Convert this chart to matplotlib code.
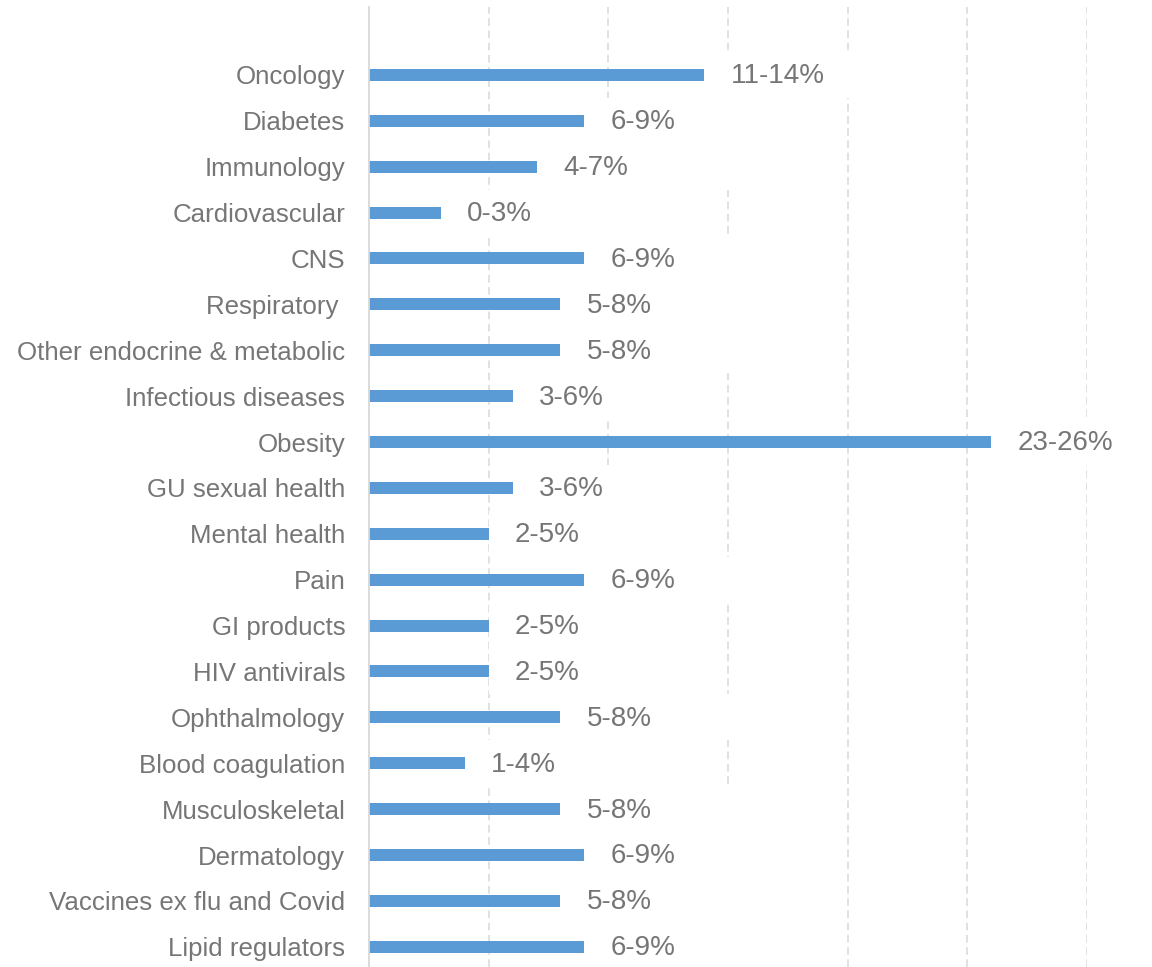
import matplotlib.pyplot as plt
import numpy as np

plt.rcParams['font.family'] = ['Liberation Sans', 'DejaVu Sans']

# 数据：各治疗领域及其区间（条形长度取区间上限）
categories = [
    'Oncology', 'Diabetes', 'Immunology', 'Cardiovascular', 'CNS',
    'Respiratory ', 'Other endocrine & metabolic', 'Infectious diseases',
    'Obesity', 'GU sexual health', 'Mental health', 'Pain', 'GI products',
    'HIV antivirals', 'Ophthalmology', 'Blood coagulation', 'Musculoskeletal',
    'Dermatology', 'Vaccines ex flu and Covid', 'Lipid regulators',
]
low_values = [11, 6, 4, 0, 6, 5, 5, 3, 23, 3, 2, 6, 2, 2, 5, 1, 5, 6, 5, 6]
high_values = [14, 9, 7, 3, 9, 8, 8, 6, 26, 6, 5, 9, 5, 5, 8, 4, 8, 9, 8, 9]
x_ticks = [0, 5, 10, 15, 20, 25, 30]

BAR_COLOR = '#5B9BD5'
TEXT_COLOR = '#767676'
GRID_COLOR = '#d9d9d9'

fig = plt.figure(figsize=(11.52, 9.67), dpi=100)
ax = fig.add_axes([0.3203, 0.0, 0.6233, 0.9928])

y = np.arange(len(categories))
labels = [f"{lo}-{hi}%" for lo, hi in zip(low_values, high_values)]

# 标签背景（白底，遮挡网格线）
ax.barh(y, 8.5, left=high_values, height=1.0, color='white', zorder=1)
ax.barh(y, high_values, height=0.26, color=BAR_COLOR, zorder=2)

for yi, val, lab in zip(y, high_values, labels):
    ax.annotate(lab, xy=(val, yi), xytext=(19, -1), textcoords='offset points',
                ha='left', va='center', fontsize=20, color=TEXT_COLOR,
                annotation_clip=False, zorder=3)

ax.set_xlim(0, 30)
ax.set_ylim(19.44, -1.48)
ax.set_xticks(x_ticks)
ax.set_xticklabels([])
ax.set_yticks(y)
ax.set_yticklabels(categories, fontsize=18.6, color=TEXT_COLOR)
ax.tick_params(axis='both', length=0)
ax.tick_params(axis='y', pad=17)

ax.set_axisbelow(True)
ax.grid(axis='x', color=GRID_COLOR, linestyle=(0, (5, 3)), linewidth=1.1)
for side in ['top', 'right', 'bottom']:
    ax.spines[side].set_visible(False)
ax.spines['left'].set_color(GRID_COLOR)
ax.spines['left'].set_linewidth(1.3)
ax.spines['left'].set_zorder(2.5)

fig.savefig('out.png', dpi=100)
